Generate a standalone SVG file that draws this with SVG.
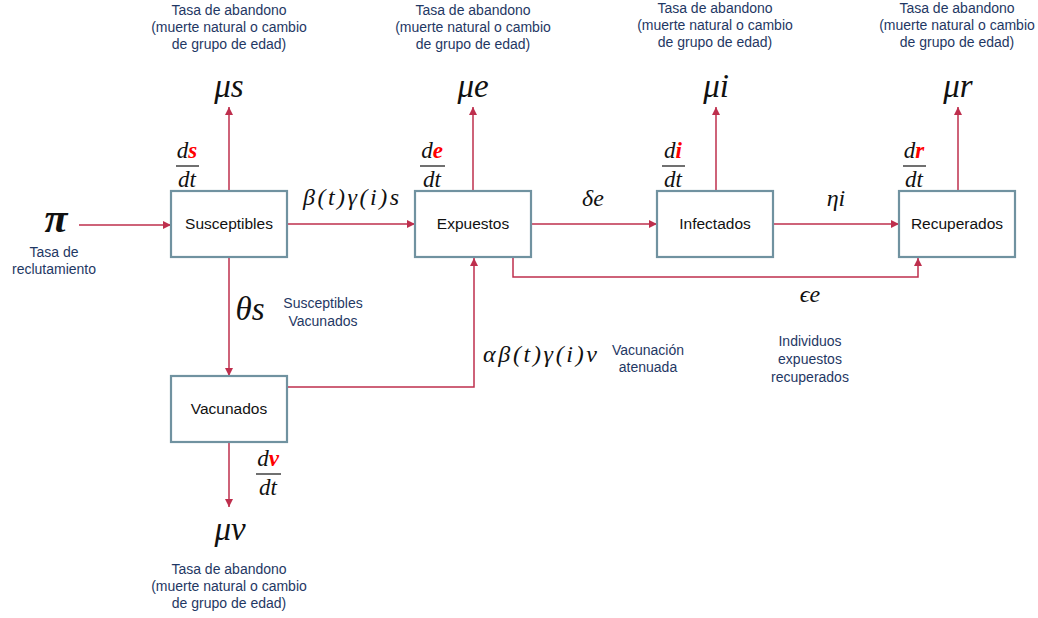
<svg xmlns="http://www.w3.org/2000/svg" width="1038" height="618" viewBox="0 0 1038 618">
<defs>
<marker id="ah" viewBox="0 0 10 10" refX="10" refY="5" markerWidth="8" markerHeight="8" markerUnits="userSpaceOnUse" orient="auto">
<path d="M0,0 L10,5 L0,10 z" fill="#be2f4d"/>
</marker>
<style>
.box{fill:#fff;stroke:#7092a0;stroke-width:2.2}
.bt{font-family:"Liberation Sans",Arial,sans-serif;font-size:15.5px;fill:#111;text-anchor:middle}
.nt{font-family:"Liberation Sans",Arial,sans-serif;font-size:14px;fill:#1f3864;text-anchor:middle}
.m{font-family:"Liberation Serif","Times New Roman",serif;font-style:italic;fill:#111;text-anchor:middle}
.mb{font-size:33px}
.ms{font-size:24px}
.fr{font-size:23px}
.red{fill:#ff0000;font-weight:bold}
.fl{stroke:#222;stroke-width:1.3}
.c{fill:none;stroke:#be2f4d;stroke-width:1.5;marker-end:url(#ah)}
</style>
</defs>
<rect width="1038" height="618" fill="#fff"/>
<g id="connectors">
<path class="c" d="M79,225 H171"/>
<path class="c" d="M287,224 H415"/>
<path class="c" d="M531,224 H657"/>
<path class="c" d="M773,224 H899"/>
<path class="c" d="M229,191 V107"/>
<path class="c" d="M473,191 V107"/>
<path class="c" d="M716,191 V107"/>
<path class="c" d="M958,191 V107"/>
<path class="c" d="M513,257 V277 H918 V258"/>
<path class="c" d="M229,257 V376"/>
<path class="c" d="M287,387 H474 V258"/>
<path class="c" d="M229,442 V507"/>
</g>
<g id="susceptibles">
<rect class="box" x="171" y="191" width="116" height="66"/>
<text class="bt" x="229" y="229">Susceptibles</text>
</g>
<g id="expuestos">
<rect class="box" x="415" y="191" width="116" height="66"/>
<text class="bt" x="473" y="229">Expuestos</text>
</g>
<g id="infectados">
<rect class="box" x="657" y="191" width="116" height="66"/>
<text class="bt" x="715" y="229">Infectados</text>
</g>
<g id="recuperados">
<rect class="box" x="899" y="191" width="116" height="66"/>
<text class="bt" x="957" y="229">Recuperados</text>
</g>
<g id="vacunados">
<rect class="box" x="171" y="376" width="116" height="66"/>
<text class="bt" x="229" y="414">Vacunados</text>
</g>
<g id="labels">
<text class="nt" x="229" y="15">Tasa de abandono</text>
<text class="nt" x="229" y="32">(muerte natural o cambio</text>
<text class="nt" x="229" y="49">de grupo de edad)</text>
<text class="nt" x="473" y="15">Tasa de abandono</text>
<text class="nt" x="473" y="32">(muerte natural o cambio</text>
<text class="nt" x="473" y="49">de grupo de edad)</text>
<text class="nt" x="715" y="13">Tasa de abandono</text>
<text class="nt" x="715" y="30">(muerte natural o cambio</text>
<text class="nt" x="715" y="47">de grupo de edad)</text>
<text class="nt" x="957" y="13">Tasa de abandono</text>
<text class="nt" x="957" y="30">(muerte natural o cambio</text>
<text class="nt" x="957" y="47">de grupo de edad)</text>
<text class="nt" x="229" y="574">Tasa de abandono</text>
<text class="nt" x="229" y="591">(muerte natural o cambio</text>
<text class="nt" x="229" y="608">de grupo de edad)</text>
<text class="nt" x="54" y="257">Tasa de</text>
<text class="nt" x="54" y="274">reclutamiento</text>
<text class="nt" x="323" y="308">Susceptibles</text>
<text class="nt" x="323" y="326">Vacunados</text>
<text class="nt" x="648" y="355">Vacunación</text>
<text class="nt" x="648" y="372">atenuada</text>
<text class="nt" x="810" y="346">Individuos</text>
<text class="nt" x="810" y="364">expuestos</text>
<text class="nt" x="810" y="382">recuperados</text>

<text class="m mb" x="229" y="97">μs</text>
<text class="m mb" x="473" y="97">μe</text>
<text class="m mb" x="716" y="97">μi</text>
<text class="m mb" x="958" y="97">μr</text>
<text class="m mb" x="230" y="540">μv</text>
<text class="m" style="font-size:42px;font-weight:bold" x="56" y="232">π</text>
<text class="m mb" x="250" y="320">θs</text>
<text class="m ms" x="351" y="205" textLength="96" lengthAdjust="spacing">β(t)γ(i)s</text>
<text class="m ms" x="593" y="206">δe</text>
<text class="m ms" x="836" y="206">ηi</text>
<text class="m ms" x="810" y="302">ϵe</text>
<text class="m ms" x="540" y="362" textLength="114" lengthAdjust="spacing">αβ(t)γ(i)v</text>

<text class="m fr" x="187" y="158">d<tspan class="red">s</tspan></text>
<line class="fl" x1="176" y1="166" x2="199" y2="166"/>
<text class="m fr" x="187" y="187">dt</text>
<text class="m fr" x="432" y="158">d<tspan class="red">e</tspan></text>
<line class="fl" x1="420" y1="166" x2="445" y2="166"/>
<text class="m fr" x="432" y="187">dt</text>
<text class="m fr" x="673" y="158">d<tspan class="red">i</tspan></text>
<line class="fl" x1="662" y1="166" x2="685" y2="166"/>
<text class="m fr" x="673" y="187">dt</text>
<text class="m fr" x="914" y="158">d<tspan class="red">r</tspan></text>
<line class="fl" x1="903" y1="166" x2="926" y2="166"/>
<text class="m fr" x="914" y="187">dt</text>
<text class="m fr" x="268" y="466">d<tspan class="red">v</tspan></text>
<line class="fl" x1="256" y1="474" x2="281" y2="474"/>
<text class="m fr" x="268" y="495">dt</text>
</g>
</svg>
